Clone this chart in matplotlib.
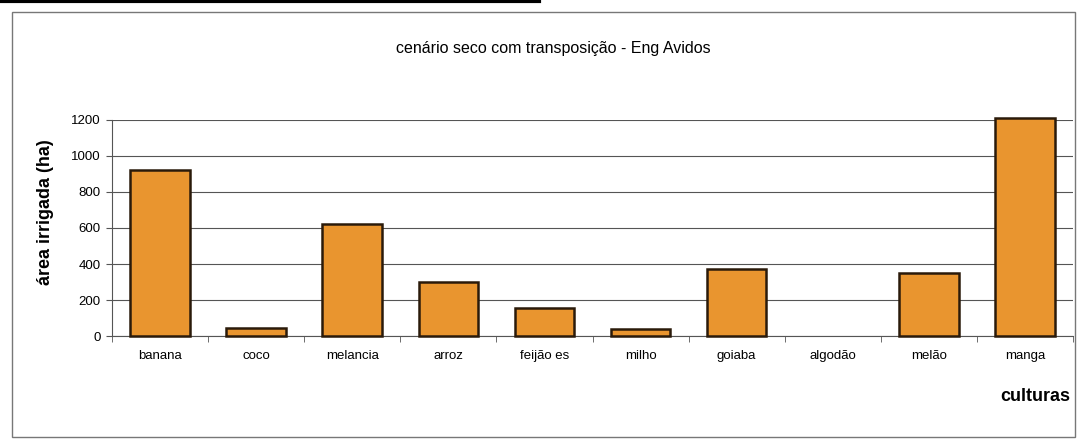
import numpy as np
import matplotlib.pyplot as plt
from matplotlib.patches import Rectangle

culturas = ['banana', 'coco', 'melancia', 'arroz', 'feijão es', 'milho',
            'goiaba', 'algodão', 'melão', 'manga']
area = [920, 45, 622, 300, 155, 40, 372, 0, 348, 1213]
yticks = [0, 200, 400, 600, 800, 1000, 1200]

plt.rcParams['font.family'] = ['Liberation Sans', 'DejaVu Sans']

fig = plt.figure(figsize=(10.78, 4.41), dpi=100)
ax = fig.add_axes([0.1039, 0.238, 0.8915, 0.49])

x = np.arange(len(culturas))
bars = ax.bar(x, area, width=0.62, color='#E9952F', edgecolor='#2a1a0a',
              linewidth=1.8, zorder=3)
for b, v in zip(bars, area):
    b.set_clip_on(False)
    if v == 0:
        b.set_linewidth(0)

ax.set_xlim(-0.5, len(culturas) - 0.5)
ax.set_ylim(0, 1200)
ax.set_yticks(yticks)
ax.set_yticklabels([str(v) for v in yticks], fontsize=9.5)
ax.yaxis.grid(True, color='#555555', linewidth=0.8, zorder=0)
ax.set_xticks(x)
ax.set_xticklabels(culturas, fontsize=9.5)
ax.tick_params(axis='x', length=0, pad=10)
ax.set_xticks(np.arange(-0.5, len(culturas)), minor=True)
ax.tick_params(axis='x', which='minor', length=4, color='#555555')
ax.tick_params(axis='y', length=4, color='#555555', pad=4)
for s in ['top', 'right']:
    ax.spines[s].set_visible(False)
for s in ['left', 'bottom']:
    ax.spines[s].set_color('#555555')

fig.text(0.513, 0.89, 'cenário seco com transposição - Eng Avidos',
         ha='center', va='center', fontsize=11.5)
fig.text(0.042, 0.52, 'área irrigada (ha)', rotation=90, ha='center',
         va='center', fontsize=13, fontweight='bold')
fig.text(0.96, 0.102, 'culturas', ha='center', va='center', fontsize=13,
         fontweight='bold')

# outer frame of the chart
fig.patches.append(Rectangle((0.011, 0.008), 0.986, 0.965, transform=fig.transFigure,
                             fill=False, edgecolor='#777777', linewidth=1))
fig.lines.append(plt.Line2D([0, 0.5], [0.997, 0.997], transform=fig.transFigure,
                            color='black', linewidth=3))

fig.savefig('out.png', dpi=100)
